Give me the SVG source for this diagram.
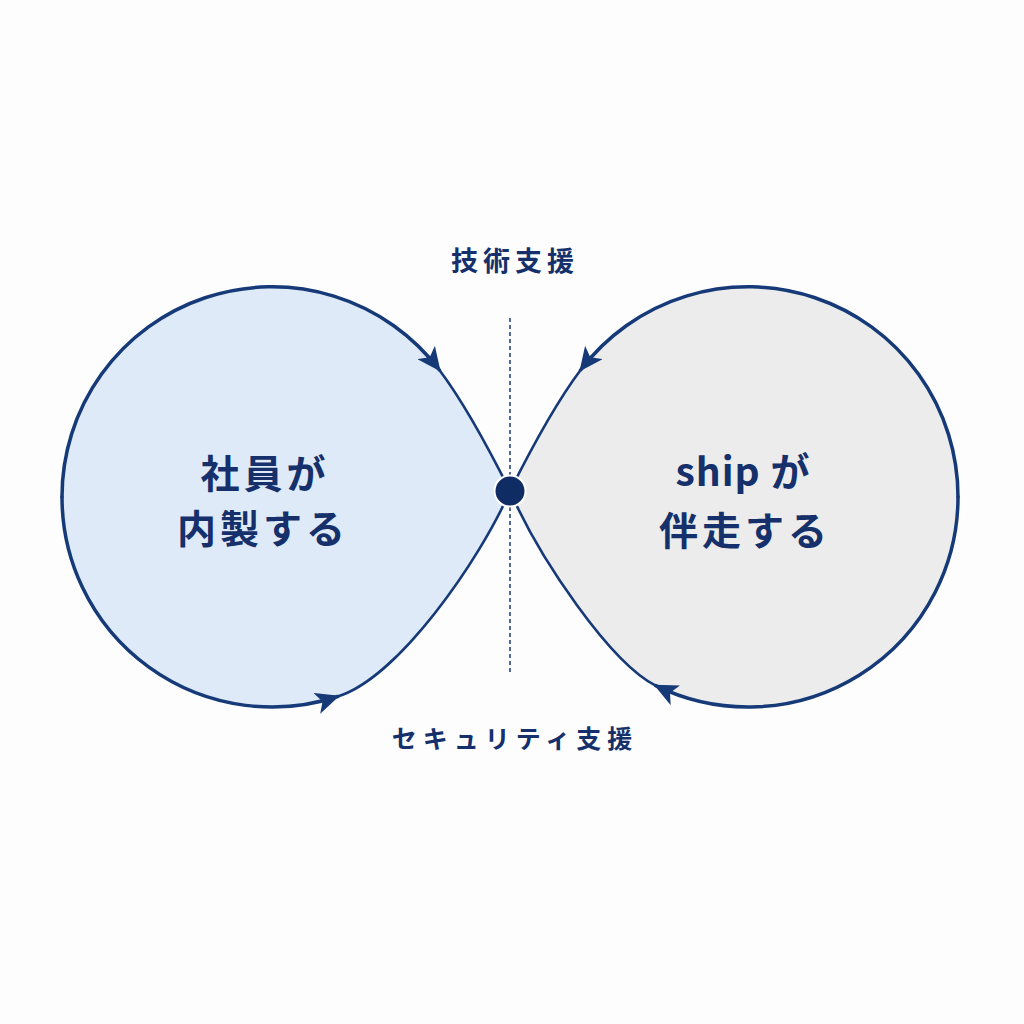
<svg xmlns="http://www.w3.org/2000/svg" width="1024" height="1024" viewBox="0 0 1024 1024">
<style>
.ln{fill:none;stroke:#163a78;stroke-width:3.5;stroke-linecap:round}
.thin{fill:none;stroke:#163a78;stroke-width:2.6;stroke-linecap:round}
.big{font-family:"Noto Sans CJK JP","Noto Sans",sans-serif;font-weight:700;font-size:39px;fill:#15306a;letter-spacing:4px;text-anchor:middle}
.sm{font-family:"Noto Sans CJK JP","Noto Sans",sans-serif;font-weight:700;font-size:26px;fill:#15306a;text-anchor:middle}
</style>
<defs>
<marker id="arr" viewBox="0 0 24 22" refX="22" refY="11" markerUnits="userSpaceOnUse" markerWidth="24" markerHeight="22" orient="auto">
<path d="M0,0 L24,11 L0,22 L6,11 Z" fill="#163a78"/>
</marker>
</defs>
<rect width="1024" height="1024" fill="#fdfdfd"/>
<g id="left-loop">
<path d="M510 491 C491 453 462 400 439.4 370 A210 210 0 1 0 337.7 696.5 C398 678 480 560 510 491 Z" fill="#deeaf8"/>
<text class="big" x="265" y="488">社員が</text>
<text class="big" x="263" y="543">内製する</text>
</g>
<g id="right-loop">
<path d="M510 491 C529 453 558 400 580.6 370 A210 210 0 1 1 655.7 685.6 C611 663 540 560 510 491 Z" fill="#ececec"/>
<text class="big" x="743" y="486" style="letter-spacing:1px">ship が</text>
<text class="big" x="745" y="545">伴走する</text>
</g>
<g id="connectors">
<line x1="510" y1="318" x2="510" y2="673" stroke="#163a78" stroke-width="1.5" stroke-dasharray="4 3"/>
<path class="ln" d="M62 497 A210 210 0 0 1 439.4 370" marker-end="url(#arr)"/>
<path class="ln" d="M62 497 A210 210 0 0 0 337.7 696.5" marker-end="url(#arr)"/>
<path class="thin" d="M439.4 370 C462 400 491 453 510 491"/>
<path class="thin" d="M337.7 696.5 C398 678 480 560 510 491"/>
<path class="ln" d="M958 497 A210 210 0 0 0 580.6 370" marker-end="url(#arr)"/>
<path class="ln" d="M958 497 A210 210 0 0 1 655.7 685.6" marker-end="url(#arr)"/>
<path class="thin" d="M580.6 370 C558 400 529 453 510 491"/>
<path class="thin" d="M655.7 685.6 C611 663 540 560 510 491"/>
</g>
<g id="center-node">
<circle cx="510" cy="491" r="15.5" fill="#0f2c64" stroke="#ffffff" stroke-width="2"/>
</g>
<g id="label-tech">
<text class="sm" x="515" y="271" style="letter-spacing:5px;font-size:27px">技術支援</text>
</g>
<g id="label-security">
<text class="sm" x="515" y="748" style="letter-spacing:6px;font-size:25px">セキュリティ支援</text>
</g>
</svg>
